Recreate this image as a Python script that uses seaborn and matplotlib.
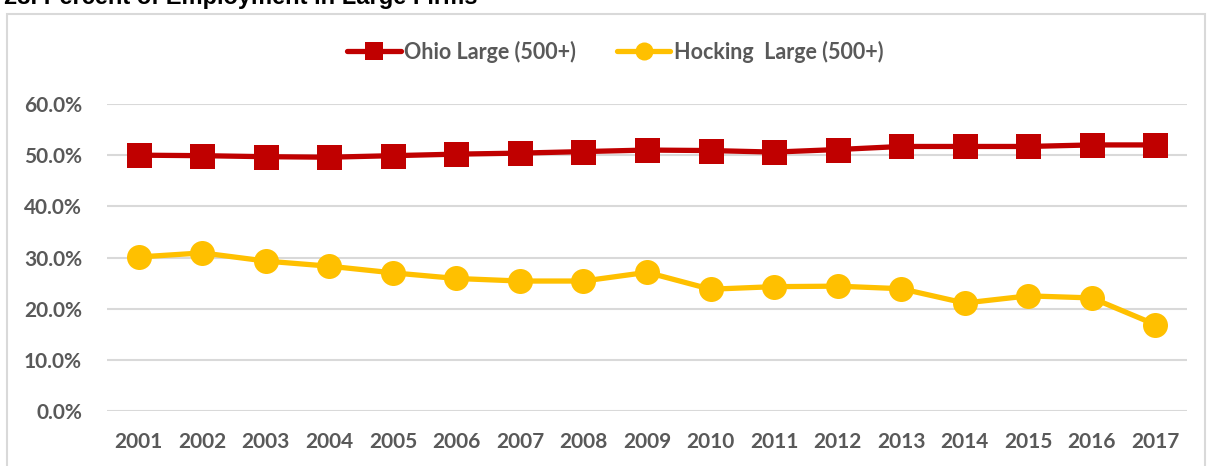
import matplotlib
matplotlib.use("Agg")
import matplotlib.pyplot as plt
import matplotlib.patches as mpatches
import matplotlib.ticker as mticker
import seaborn as sns
import pandas as pd

years = ["2001", "2002", "2003", "2004", "2005", "2006", "2007", "2008", "2009",
         "2010", "2011", "2012", "2013", "2014", "2015", "2016", "2017"]
ohio = [50.0, 49.9, 49.7, 49.6, 49.9, 50.2, 50.4, 50.7, 51.0,
        50.9, 50.6, 51.1, 51.7, 51.7, 51.7, 52.0, 52.0]
hocking = [30.1, 30.9, 29.3, 28.3, 27.0, 25.9, 25.4, 25.4, 27.1,
           23.8, 24.3, 24.4, 23.9, 21.1, 22.5, 22.1, 16.9]
series_names = ["Ohio Large (500+)", "Hocking  Large (500+)"]
title_text = "23. Percent of Employment in Large Firms"

sns.set_theme(style="white")
plt.rcParams["font.family"] = ["Lato", "DejaVu Sans"]

W, H = 1207, 466
fig = plt.figure(figsize=(W / 100, H / 100), dpi=100)
ax = fig.add_axes([107 / W, 1 - 411 / H, (1187 - 107) / W, (411 - 104) / H])

df = pd.DataFrame({
    "pos": list(range(len(years))) * 2,
    "value": [v / 100 for v in ohio] + [v / 100 for v in hocking],
    "series": [series_names[0]] * len(years) + [series_names[1]] * len(years),
})

palette = {series_names[0]: "#C00000", series_names[1]: "#FFC000"}
markers = {series_names[0]: "s", series_names[1]: "o"}
sns.lineplot(data=df, x="pos", y="value", hue="series", style="series",
             palette=palette, markers=markers, dashes=False, linewidth=3.8,
             markersize=18, markeredgewidth=0, ax=ax, zorder=3)

ax.set_xlim(-0.5, len(years) - 0.5)
ax.set_ylim(0, 0.6)
ax.set_xticks(range(len(years)))
ax.set_xticklabels(years)
ax.set_yticks([0, 0.1, 0.2, 0.3, 0.4, 0.5, 0.6])
ax.yaxis.set_major_formatter(mticker.FuncFormatter(lambda v, p: f"{v*100:.1f}%"))
ax.set_xlabel("")
ax.set_ylabel("")
for s in ax.spines.values():
    s.set_visible(False)
ax.grid(axis="y", color="#d9d9d9", linewidth=1.5, zorder=0)
ax.grid(axis="x", visible=False)
ax.tick_params(axis="both", length=0, labelsize=15, labelcolor="#595959")
ax.tick_params(axis="y", pad=18)
ax.tick_params(axis="x", pad=15)
for lbl in ax.get_xticklabels() + ax.get_yticklabels():
    lbl.set_fontweight("bold")

handles, labels = ax.get_legend_handles_labels()
leg = ax.legend(handles, labels, loc="center", bbox_to_anchor=(615 / W, 1 - 52 / H),
                bbox_transform=fig.transFigure, ncol=2, frameon=False,
                handlelength=2.5, handletextpad=0.15, columnspacing=1.9,
                prop={"weight": "bold", "size": 15.5})
for t in leg.get_texts():
    t.set_color("#595959")
for h in leg.legend_handles:
    h.set_markersize(13)

# chart frame
fig.patches.append(mpatches.Rectangle((7 / W, -0.05), (1205 - 7) / W, 1 - 14 / H + 0.05,
                                      transform=fig.transFigure, fill=False,
                                      edgecolor="#d9d9d9", linewidth=1.5))
fig.text(4 / W, 1 - 4 / H, title_text, fontsize=17, fontweight="bold",
         family=["Liberation Sans", "DejaVu Sans"], color="black", va="baseline", ha="left")

fig.savefig("out.png", dpi=100)
